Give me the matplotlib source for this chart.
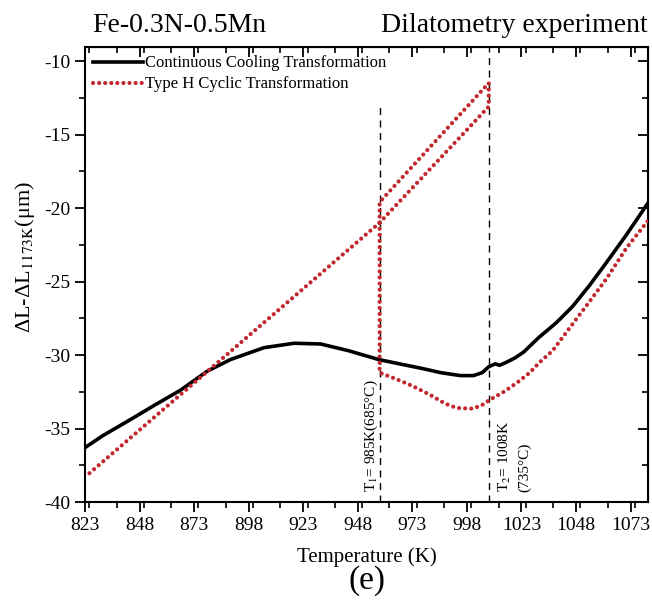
import numpy as np
import matplotlib
matplotlib.use('Agg')
import matplotlib.pyplot as plt
from matplotlib.ticker import MultipleLocator, FixedLocator

plt.rcParams['font.family'] = ['Liberation Serif', 'DejaVu Serif']
plt.rcParams['mathtext.fontset'] = 'stix'
plt.rcParams['axes.unicode_minus'] = False

# continuous cooling curve (black)
cct_T = [823, 831, 843.7, 855, 866.7, 879, 889.8, 905, 918.8, 931, 943.6, 957.4,
         967, 977, 986, 995, 1001, 1005, 1008, 1011, 1013, 1016, 1020, 1024,
         1031, 1039, 1046.4, 1054, 1062, 1071.2, 1080.8]
cct_dL = [-36.3, -35.5, -34.4, -33.4, -32.4, -31.1, -30.3, -29.5, -29.2, -29.25, -29.7, -30.3,
          -30.6, -30.9, -31.2, -31.4, -31.4, -31.2, -30.8, -30.6, -30.7, -30.5, -30.2, -29.8,
          -28.8, -27.8, -26.7, -25.3, -23.7, -21.8, -19.7]

# type H cyclic transformation (red dots), in path order
cyc_T = [1080.8, 1071.2, 1062, 1054, 1046.4, 1037.3, 1031.3, 1026.8, 1020.8, 1015,
         1009, 1005, 1000.7, 993.3, 988, 981, 973, 965, 958,
         958, 1008, 1008, 958, 823]
cyc_dL = [-20.9, -22.7, -24.8, -26.4, -27.9, -29.7, -30.5, -31.2, -31.9, -32.5,
          -33.0, -33.4, -33.65, -33.6, -33.3, -32.7, -32.1, -31.6, -31.2,
          -19.6, -11.5, -13.1, -21.0, -38.3]

T1 = 958
T2 = 1008
T1_top = -12.8

xticks = [823, 848, 873, 898, 923, 948, 973, 998, 1023, 1048, 1073]
yticks = [-40, -35, -30, -25, -20, -15, -10]

fig = plt.figure(figsize=(6.52, 6.01), dpi=100)
ax = fig.add_axes([0.1304, 0.1647, 0.8635, 0.757])

ax.plot(cct_T, cct_dL, color='black', lw=2.6, label='Continuous Cooling Transformation', zorder=3)
ax.plot(cyc_T, cyc_dL, color='#c1272d', lw=3.0, linestyle=(0, (0.01, 1.45)),
        dash_capstyle='round', label='Type H Cyclic Transformation', zorder=4)

ax.plot([T1, T1], [-40, T1_top], color='black', lw=1.0, linestyle=(0, (5, 4)), zorder=2)
ax.axvline(T2, color='black', lw=1.0, linestyle=(0, (5, 4)), zorder=2)

ax.text(T1 - 4, -39.3, 'T$_1$= 985K(685°C)', rotation=90, ha='center', va='bottom', fontsize=11)
ax.text(T2 + 7.5, -39.3, 'T$_2$= 1008K', rotation=90, ha='center', va='bottom', fontsize=11)
ax.text(T2 + 16.5, -39.3, '(735°C)', rotation=90, ha='center', va='bottom', fontsize=11)

ax.set_xlim(823, 1081)
ax.set_ylim(-40, -9.05)
ax.xaxis.set_major_locator(FixedLocator(xticks))
ax.xaxis.set_minor_locator(MultipleLocator(12.5))
ax.yaxis.set_major_locator(FixedLocator(yticks))
ax.yaxis.set_minor_locator(MultipleLocator(2.5))
ax.tick_params(axis='both', which='major', direction='out', length=7, width=1.3, labelsize=14)
ax.tick_params(axis='both', which='minor', direction='out', length=4, width=1.2)

# inward ticks on top and right
sec_x = ax.secondary_xaxis('top')
sec_x.xaxis.set_major_locator(FixedLocator(xticks))
sec_x.xaxis.set_minor_locator(MultipleLocator(12.5))
sec_x.tick_params(which='major', direction='in', length=7, width=1.3, labeltop=False)
sec_x.tick_params(which='minor', direction='in', length=4, width=1.2)
sec_y = ax.secondary_yaxis('right')
sec_y.yaxis.set_major_locator(FixedLocator(yticks))
sec_y.yaxis.set_minor_locator(MultipleLocator(2.5))
sec_y.tick_params(which='major', direction='in', length=7, width=1.3, labelright=False)
sec_y.tick_params(which='minor', direction='in', length=4, width=1.2)

for s in ax.spines.values():
    s.set_linewidth(1.5)

ax.set_xlabel('Temperature (K)', fontsize=15, labelpad=10)
fig.text(0.038, 0.572, r'ΔL-ΔL$_{\mathrm{1173K}}$(μm)', fontsize=16, rotation=90,
         ha='center', va='center')

ax.legend(loc='upper left', frameon=False, fontsize=12, handlelength=3.0,
          handletextpad=0.1, borderaxespad=0.2, labelspacing=0.3, borderpad=0.3)

fig.text(0.141, 0.958, 'Fe-0.3N-0.5Mn', fontsize=20, ha='left', va='center')
fig.text(0.994, 0.958, 'Dilatometry experiment', fontsize=20, ha='right', va='center')
fig.text(0.563, 0.034, '(e)', fontsize=24, ha='center', va='center')

fig.savefig('out.png', dpi=100)
